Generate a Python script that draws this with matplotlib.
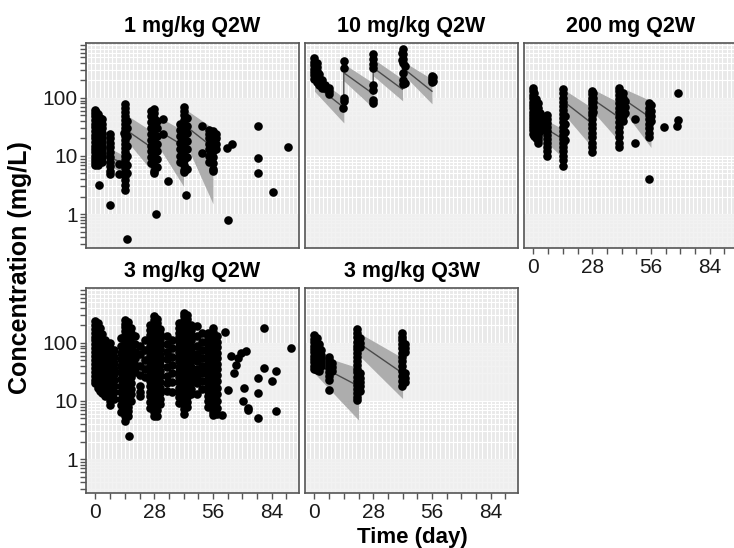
import numpy as np
import matplotlib.pyplot as plt
from matplotlib.ticker import FixedLocator, NullFormatter, NullLocator

plt.rcParams['font.family'] = ['Liberation Sans', 'DejaVu Sans']

##############################
### observed data (day, mg/L), grouped by sampling day
##############################
# 1 mg/kg Q2W
p1_t = [0, 0.5, 1, 1.5, 2, 3, 7, 11, 13.5, 14, 15, 26.5, 28, 29, 29.5, 32, 34.8,
        40.5, 42, 43, 43.5, 50.6, 54, 56, 57.5, 62.5, 63, 65, 77.5, 84.6, 91.7]
p1_c = [[62, 55, 48, 42, 36, 31, 27, 23, 20, 17.5, 15, 13, 11.5, 10, 8.8, 7.8, 6.9],
        [58, 50, 44, 38, 33, 28, 24, 21, 18, 16, 14, 12, 10.5, 9.3, 8.2, 7.2],
        [52, 45, 39, 34, 29, 25, 22, 19, 16.5, 14, 12, 10.5, 9, 8, 7],
        [3.1],
        [45, 38, 32, 27, 23, 20, 17, 14.5, 12.5, 11, 9.5, 8.3],
        [44, 36, 30, 25, 21, 18, 15, 13, 11, 9.5, 8],
        [24, 20, 16.5, 14, 11.5, 9.5, 8, 6.7, 5.6, 4.8, 1.45],
        [7.2, 4.9],
        [25],
        [78, 68, 58, 48, 42, 36, 30, 26, 22, 19, 16, 13.5, 11.5, 10, 8.5, 7.3, 6.2,
         5.3, 4.5, 3.8, 3.2, 2.6],
        [40, 30, 22, 15, 10, 7, 5, 0.37],
        [60, 48, 38, 30, 24, 19, 15, 12, 9.5, 7.5],
        [64, 55, 45, 36, 29, 23, 18, 14, 11, 9, 7, 5.5, 5],
        [1.0],
        [40, 30, 22, 16, 12, 9, 6.5],
        [43, 24],
        [3.7],
        [35, 28, 22, 17, 13, 10, 8],
        [70, 60, 50, 42, 35, 29, 24, 20, 17, 14, 12, 10, 8.5, 7, 5.8, 5.2],
        [2.1],
        [45, 33, 25, 18, 13, 9.5, 6],
        [33, 11.3],
        [28, 24, 20, 16, 13, 10, 8],
        [27, 22, 18, 15, 12, 9.5, 7.5, 6, 5.5],
        [24, 20, 16, 13],
        [13.8],
        [0.8],
        [16],
        [33, 9.2, 5.1],
        [2.4],
        [14]]

# 10 mg/kg Q2W
p2_t = [0, 1, 2, 3.5, 5, 7, 13.5, 14, 28, 41.5, 42, 43, 56, 56.5]
p2_c = [[480, 420, 370, 320, 280, 245, 215],
        [400, 340, 290, 250, 215, 190],
        [260, 220, 190, 165],
        [200, 175, 150],
        [165, 145],
        [150, 130, 115],
        [66],
        [430, 330, 100, 88],
        [570, 470, 380, 330, 165, 135, 92, 83],
        [600, 440],
        [690, 560, 470, 400, 270, 200, 175],
        [360, 180],
        [240, 210, 185],
        [225, 195]]

# 200 mg Q2W
p3_t = [0, 0.5, 1, 2, 3, 6.6, 14, 15, 28, 28.5, 41, 42.5, 43.5, 48.3, 55, 56,
        62.2, 68.3, 69]
p3_c = [[150, 130, 112, 98, 86, 75, 66, 58, 51, 45, 40, 35, 31, 27.5, 24],
        [120, 100, 86, 74, 64, 56, 49, 43, 38, 33, 29, 25, 22],
        [95, 82, 70, 60, 52, 45, 39, 34, 30, 26, 23, 20],
        [80, 68, 58, 50, 43, 37, 32, 28, 24, 21, 18.5, 16.5],
        [55, 45, 38, 32, 27],
        [50, 43, 37, 32, 27, 23, 19.5, 16.5, 14, 12, 10],
        [140, 120, 100, 85, 72, 62, 53, 45, 38, 32, 27, 23, 19.5, 16.5, 14, 12, 10,
         8.5, 6.7],
        [48, 36, 26, 19],
        [130, 115, 100, 88, 77, 67, 58, 50, 43, 36, 30, 25, 21, 17, 14, 11.5],
        [120, 100, 85, 70, 58],
        [150, 130, 110, 95, 80, 68, 57, 47, 39, 32, 26, 21, 17, 14],
        [120, 100, 85, 70, 58, 48, 40],
        [90, 70, 55],
        [43, 17],
        [80, 68, 58, 50, 43, 36, 30, 25, 21, 4.0],
        [75, 60, 48, 40],
        [32],
        [33],
        [41, 123]]

# 3 mg/kg Q2W
p4_t = [0, 1, 2, 3, 4.5, 7, 9, 12, 14, 15.5, 16, 17, 19, 21, 23.5, 26, 28, 29.5,
        31, 34, 36.5, 40, 42, 43.5, 45.5, 48.5, 51, 53.5, 56, 58, 60.3, 61.7, 63,
        64.6, 66.2, 67, 67.8, 69.4, 70.2, 71, 71.8, 72.6, 77.5, 80.5, 84, 86, 93.3]
p4_c = [[240, 205, 175, 150, 128, 110, 94, 80, 69, 59, 50, 43, 37, 32, 27, 23, 20],
        [220, 190, 160, 137, 117, 100, 86, 73, 62, 53, 45, 38, 33, 28, 24, 20, 17],
        [180, 150, 128, 108, 92, 78, 66, 56, 48, 41, 35, 30, 25, 21, 18, 15],
        [140, 118, 100, 85, 72, 61, 52, 44, 37, 31, 26, 22, 19, 16, 13.5],
        [110, 90, 75, 62, 51, 42, 35, 29, 24, 20, 17, 14, 12],
        [100, 80, 64, 52, 42, 34, 28, 23, 19, 15.5, 12.5, 10, 8.6],
        [75, 58, 45, 36, 29, 23, 18, 14, 11],
        [120, 90, 68, 52, 40, 31, 24, 18, 14, 11, 8.5, 6.5],
        [250, 215, 185, 160, 137, 118, 100, 86, 74, 63, 54, 46, 39, 33, 28, 24, 20,
         17, 14.5, 12.3, 10.5, 9, 7.6, 6.5, 5.5, 4.6],
        [230, 195, 165, 140, 118, 100, 84, 70, 59, 50, 42, 35, 29, 24, 20, 17, 14,
         11.5, 9.5, 8, 6.6, 5.5],
        [2.5],
        [180, 150, 125, 100, 80, 64, 50, 40, 32, 26, 20, 16, 13, 10],
        [130, 95, 70, 55, 42, 32],
        [90, 65, 40, 28, 18, 14.5, 12],
        [110, 75, 50, 35, 26],
        [200, 165, 135, 110, 90, 73, 60, 49, 40, 33, 27, 22, 18, 14.5, 12, 9.5, 7.5],
        [290, 250, 215, 185, 158, 135, 115, 98, 84, 72, 61, 52, 44, 37, 31, 26, 22,
         18.5, 15.5, 13, 11, 9.2, 7.7, 6.5, 5.5],
        [260, 220, 185, 155, 130, 108, 90, 75, 62, 51, 42, 35, 29, 24, 20, 16, 13,
         10.5, 8.5, 7, 5.6],
        [170, 140, 115, 94, 77, 63, 51, 41, 33, 27, 21, 17, 13.5, 11, 9],
        [130, 95, 70, 52, 38, 27, 20, 15],
        [110, 80, 58, 42, 30, 21, 14.5],
        [220, 180, 150, 125, 103, 85, 70, 58, 48, 39, 32, 26, 21, 17, 14, 11.5, 9.3],
        [330, 285, 245, 210, 180, 155, 133, 114, 98, 84, 72, 62, 53, 45, 38, 32, 27,
         23, 19.5, 16.5, 14, 12, 10, 8.5, 7.2, 6],
        [300, 255, 215, 182, 155, 130, 110, 92, 77, 64, 53, 44, 37, 30, 25, 20.5, 17,
         14, 11.5, 9.5, 7.8],
        [200, 165, 135, 110, 90, 73, 59, 48, 39, 31, 25, 20, 16, 13],
        [195, 130, 90, 65, 48, 36, 27, 20, 13],
        [150, 105, 75, 55, 40, 30, 22, 16],
        [150, 125, 104, 86, 71, 59, 49, 40, 33, 27, 22, 18, 15, 12, 10, 8],
        [180, 155, 132, 112, 95, 81, 69, 58, 49, 41, 35, 29, 24, 20, 17, 14, 11.5,
         9.5, 8, 6.5, 5.8],
        [130, 105, 85, 68, 55, 44, 35, 28, 22, 17, 13, 10, 7.5, 5.9],
        [5.7],
        [155],
        [15.7],
        [59],
        [30],
        [42],
        [55],
        [67],
        [9.9],
        [16.8],
        [72],
        [7.6, 7.1],
        [25, 13.7, 5.1],
        [181, 37],
        [22],
        [33, 6.6],
        [82]]

# 3 mg/kg Q3W
p5_t = [0, 1, 2, 3, 7, 8.5, 20.5, 21.5, 41.5, 43]
p5_c = [[135, 118, 103, 90, 79, 69, 60, 53, 46, 40, 35],
        [120, 100, 86, 74, 64, 55, 47, 40, 34],
        [95, 82, 70, 60, 52, 45, 39, 33],
        [75, 63, 54, 46, 40],
        [58, 50, 43, 37, 32, 27, 23, 15.6],
        [45, 38, 33],
        [170, 145, 125, 105, 90, 78, 67, 57, 49, 42, 36, 31, 26, 22, 19, 16, 13.5,
         11.5, 10.5],
        [120, 100, 85, 30, 25, 21, 18, 15],
        [150, 128, 110, 95, 80, 68, 58, 48, 40, 33, 27, 22, 18],
        [95, 80, 70, 30, 25, 21]]

##############################
### model prediction per dosing interval: (start, end) values
##############################
p1_dose = [0, 14, 28, 42, 56]
p1_med = [(12, 7.3), (29, 13), (30, 15), (35, 14)]
p1_lo = [(9, 4.9), (20, 4.9), (19, 3), (20, 1.5)]
p1_hi = [(18, 10), (53, 25), (52, 27), (67, 30)]

p2_dose = [0, 14, 28, 42, 56]
p2_med = [(170, 68), (270, 117), (330, 140), (330, 130)]
p2_lo = [(130, 37), (196, 67), (240, 89), (260, 79)]
p2_hi = [(240, 100), (385, 180), (470, 210), (430, 210)]

p3_dose = [0, 14, 28, 42, 56]
p3_med = [(40, 19.6), (89, 36), (96, 43), (100, 45)]
p3_lo = [(28, 9.3), (55, 14), (60, 16), (67, 14)]
p3_hi = [(55, 29), (143, 67), (143, 79), (150, 89)]

p4_dose = [0, 14, 28, 42, 56]
p4_med = [(60, 28), (90, 42), (100, 48), (105, 50)]
p4_lo = [(35, 14), (60, 25), (65, 28), (70, 28)]
p4_hi = [(100, 55), (130, 70), (150, 80), (160, 85)]

p5_dose = [0, 21, 42]
p5_med = [(45, 18), (100, 30)]
p5_lo = [(30, 4.7), (62, 11)]
p5_hi = [(65, 37), (150, 55)]

titles = ["1 mg/kg Q2W", "10 mg/kg Q2W", "200 mg Q2W", "3 mg/kg Q2W", "3 mg/kg Q3W"]

################################
######PLOTTING ONLY#############
################################
W, H = 734, 548
fig = plt.figure(figsize=(W / 100, H / 100), dpi=100)

# panel boxes in pixels: left, top
boxes = [(86, 43), (305, 43), (524, 43), (86, 288), (305, 288)]
pw, ph = 213, 205

panels = [(p1_t, p1_c, p1_dose, p1_med, p1_lo, p1_hi),
          (p2_t, p2_c, p2_dose, p2_med, p2_lo, p2_hi),
          (p3_t, p3_c, p3_dose, p3_med, p3_lo, p3_hi),
          (p4_t, p4_c, p4_dose, p4_med, p4_lo, p4_hi),
          (p5_t, p5_c, p5_dose, p5_med, p5_lo, p5_hi)]

show_x = [False, False, True, True, True]
show_y = [True, False, False, True, False]

for i, (tt, cc, dose, med, lo, hi) in enumerate(panels):
    l, t = boxes[i]
    ax = fig.add_axes([l / W, 1 - (t + ph) / H, pw / W, ph / H])
    ax.set_facecolor('#e9e9e9')
    ax.set_yscale('log')
    ax.set_xlim(-4.5, 97)
    ax.set_ylim(0.26, 880)

    # grid
    for gx in np.arange(-4, 97, 2):
        ax.axvline(gx, color='white', lw=0.8, zorder=0.3)
    for dec in [0.1, 1, 10, 100]:
        for m in range(1, 10):
            ax.axhline(m * dec, color='white', lw=0.8, zorder=0.3)
    ax.axhspan(10, 100, color='#f0f0f0', alpha=0.85, lw=0, zorder=0.4)
    ax.axhspan(0.1, 1, color='#f0f0f0', alpha=0.85, lw=0, zorder=0.4)

    # prediction band + median
    mx, my = [], []
    for k in range(len(med)):
        x0, x1 = dose[k], dose[k + 1]
        ax.fill_between([x0, x1], [lo[k][0], lo[k][1]], [hi[k][0], hi[k][1]],
                        color='#adadad', lw=0, zorder=1)
        mx += [x0, x1]
        my += [med[k][0], med[k][1]]
    ax.plot(mx, my, color='#4a4a4a', lw=1.0, zorder=2)

    # observations
    for x, cs in zip(tt, cc):
        ax.plot([x] * len(cs), cs, 'o', color='black', markersize=6.2,
                markeredgewidth=0, zorder=3)

    for s in ax.spines.values():
        s.set_color('#555555')
        s.set_linewidth(1.2)

    ax.set_title(titles[i], fontsize=15.5, fontweight='bold', pad=8)

    if show_x[i]:
        ax.xaxis.set_major_locator(FixedLocator([0, 28, 56, 84]))
        ax.xaxis.set_minor_locator(FixedLocator([7, 14, 21, 35, 42, 49, 63, 70, 77, 91]))
        ax.xaxis.set_minor_formatter(NullFormatter())
        ax.tick_params(axis='x', which='both', length=4, width=1, color='#555555',
                       labelsize=15, pad=3, labelcolor='#1a1a1a')
    else:
        ax.xaxis.set_major_locator(NullLocator())
        ax.xaxis.set_minor_locator(NullLocator())

    if show_y[i]:
        ax.yaxis.set_major_locator(FixedLocator([1, 10, 100]))
        ax.set_yticklabels(['1', '10', '100'])
        minors = [m * d for d in [0.1, 1, 10, 100] for m in range(2, 10)]
        ax.yaxis.set_minor_locator(FixedLocator(minors))
        ax.yaxis.set_minor_formatter(NullFormatter())
        ax.tick_params(axis='y', which='both', length=4, width=1, color='#555555',
                       labelsize=15, pad=2, labelcolor='#1a1a1a')
    else:
        ax.yaxis.set_major_locator(NullLocator())
        ax.yaxis.set_minor_locator(NullLocator())

fig.text(20 / W, 1 - 268 / H, 'Concentration (mg/L)', rotation=90, fontsize=18,
         fontweight='bold', ha='center', va='center')
fig.text(412 / W, 1 - 537 / H, 'Time (day)', fontsize=16, fontweight='bold',
         ha='center', va='center')

print('[INFO] Saving plot as <out.png>')
plt.savefig('out.png', dpi=100)
